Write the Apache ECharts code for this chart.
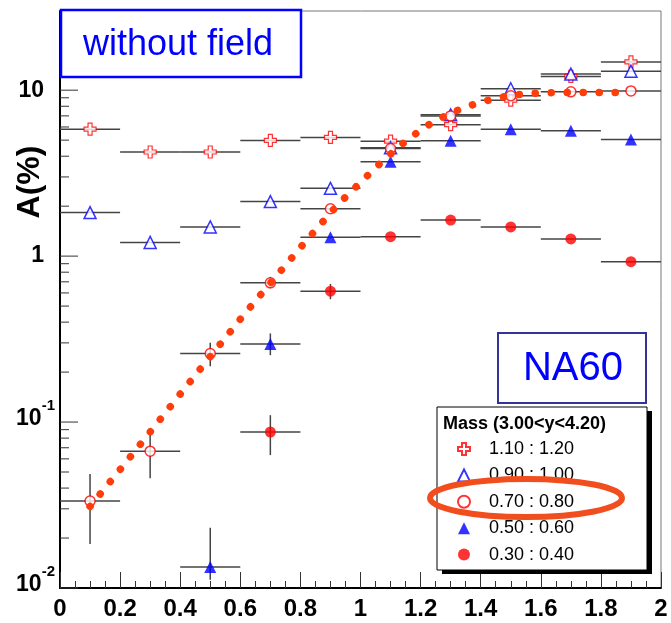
<!DOCTYPE html>
<html><head><meta charset="utf-8">
<script src="https://cdn.jsdelivr.net/npm/echarts@6/dist/echarts.min.js"></script>
<style>html,body{margin:0;padding:0;background:#fff}#c{width:671px;height:623px}</style>
</head><body><div id="c"></div>
<script>
// ---- data ----
const xCenters = [0.1, 0.3, 0.5, 0.7, 0.9, 1.1, 1.3, 1.5, 1.7, 1.9];
const xHalfWidth = 0.1;

const seriesNames = ['1.10 : 1.20', '0.90 : 1.00', '0.70 : 0.80', '0.50 : 0.60', '0.30 : 0.40'];

const mass110 = [5.82, 4.24, 4.24, 4.98, 5.19, 4.93, 6.2, 8.7, 12.1, 14.8];
const mass090 = [1.83, 1.21, 1.50, 2.13, 2.56, 4.5, 7.1, 10.2, 12.5, 13.0];
const mass070 = [0.0334, 0.0668, 0.259, 0.69, 1.93, 4.45, 7.0, 9.25, 9.77, 9.9];
const mass050 = [null, null, 0.0134, 0.295, 1.30, 3.70, 4.95, 5.82, 5.69, 5.05];
const mass030 = [null, null, null, 0.0871, 0.615, 1.31, 1.65, 1.50, 1.27, 0.925];

// vertical error bars (low, high); null = negligible
const mass070Lo = [0.0184, 0.0458, 0.217, 0.64, null, null, null, null, null, null];
const mass070Hi = [0.0487, 0.0883, 0.301, 0.75, null, null, null, null, null, null];
const mass050Lo = [null, null, 0.0112, 0.253, null, null, null, null, null, null];
const mass050Hi = [null, null, 0.0231, 0.342, null, null, null, null, null, null];
const mass030Lo = [null, null, null, 0.0632, 0.55, null, null, null, null, null];
const mass030Hi = [null, null, null, 0.110, 0.68, null, null, null, null, null];

// dotted fit curve
const fitX = [0.10, 0.213, 0.313, 0.412, 0.512, 0.613, 0.715, 0.818, 0.923, 1.0, 1.076, 1.157, 1.200, 1.246, 1.292, 1.342, 1.393, 1.444, 1.495, 1.550, 1.602, 1.655, 1.9];
const fitY = [0.031, 0.0553, 0.0933, 0.157, 0.264, 0.446, 0.740, 1.23, 2.03, 2.78, 3.78, 5.05, 5.74, 6.50, 7.14, 7.83, 8.39, 8.87, 9.25, 9.51, 9.64, 9.68, 9.68];

// axis ticks / labels
const xTickLabels = ['0', '0.2', '0.4', '0.6', '0.8', '1', '1.2', '1.4', '1.6', '1.8', '2'];
const yTickValues = [0.01, 0.1, 1, 10];
const yTickLabels = ['{b|10}{s|-2}', '{b|10}{s|-1}', '{p|1}', '{p|10}'];
const yMinorMultipliers = [2, 3, 4, 5, 6, 7, 8, 9];

// ---- build ----
const FONT = '"Liberation Sans", Arial, Helvetica, sans-serif';
const values = [mass110, mass090, mass070, mass050, mass030];
const errLo = [null, null, mass070Lo, mass050Lo, mass030Lo];
const errHi = [null, null, mass070Hi, mass050Hi, mass030Hi];

function pts(arr) {
  const out = [];
  arr.forEach((v, i) => { if (v != null) out.push([xCenters[i], v]); });
  return out;
}
const errData = [];
values.forEach((arr, s) => {
  arr.forEach((v, i) => {
    if (v == null) return;
    const lo = errLo[s] ? errLo[s][i] : null;
    const hi = errHi[s] ? errHi[s][i] : null;
    errData.push([xCenters[i], v, xCenters[i] - xHalfWidth, xCenters[i] + xHalfWidth, lo == null ? v : lo, hi == null ? v : hi]);
  });
});
const yTickData = [];
yTickValues.forEach(v => yTickData.push([0, v, 18]));
[0.01, 0.1, 1, 10].forEach(d => yMinorMultipliers.forEach(m => { if (m * d <= 30) yTickData.push([0, m * d, 9]); }));

const crossPath = 'path://M-1,-3L1,-3L1,-1L3,-1L3,1L1,1L1,3L-1,3L-1,1L-3,1L-3,-1L-1,-1Z';
const fit = fitX.map((x, i) => [x, fitY[i]]);

const chart = echarts.init(document.getElementById('c'), null, { renderer: 'canvas' });
chart.setOption({
  animation: false,
  backgroundColor: '#fff',
  grid: { left: 60, right: 10, top: 11, bottom: 35, show: true, borderColor: '#777', borderWidth: 1, backgroundColor: 'transparent' },
  xAxis: {
    type: 'value', min: 0, max: 2, interval: 0.2,
    axisLine: { lineStyle: { color: '#000', width: 2 } },
    axisTick: { inside: true, length: 16, lineStyle: { color: '#333', width: 1 } },
    minorTick: { show: true, splitNumber: 4, length: 7, lineStyle: { color: '#333', width: 1 } },
    splitLine: { show: false },
    axisLabel: {
      margin: 9, color: '#000', fontSize: 24, fontWeight: 'bold', fontFamily: FONT,
      formatter: v => xTickLabels[Math.round(v / 0.2)]
    }
  },
  yAxis: {
    type: 'log', logBase: 10, min: 0.01, max: 30,
    axisLine: { lineStyle: { color: '#000', width: 2 } },
    axisTick: { show: false },
    splitLine: { show: false },
    axisLabel: {
      margin: 5, color: '#000',
      formatter: function (v) {
        const e = Math.round(Math.log10(v));
        if (Math.abs(v / Math.pow(10, e) - 1) > 1e-6) return '';
        const idx = yTickValues.findIndex(t => Math.abs(t / v - 1) < 1e-6);
        return idx < 0 ? '' : yTickLabels[idx];
      },
      rich: {
        b: { fontSize: 23, fontWeight: 'bold', fontFamily: FONT, color: '#000', lineHeight: 23, verticalAlign: 'bottom', padding: [0, 0, 3, 0] },
        s: { fontSize: 15, fontWeight: 'bold', fontFamily: FONT, color: '#000', lineHeight: 15, verticalAlign: 'bottom', padding: [0, 0, 20, 0] },
        p: { fontSize: 23, fontWeight: 'bold', fontFamily: FONT, color: '#000', lineHeight: 23, padding: [0, 11, 0, 0] }
      }
    }
  },
  legend: {
    orient: 'vertical', left: 457, top: 440, padding: 0, itemGap: 8.4,
    itemWidth: 12, itemHeight: 12, z: 20,
    data: seriesNames,
    textStyle: { fontSize: 18, fontFamily: FONT, color: '#000', lineHeight: 18, padding: [0, 0, 0, 14] }
  },
  graphic: [
    { type: 'rect', z: 15, shape: { x: 442, y: 411, width: 210, height: 163 }, style: { fill: '#000' } },
    { type: 'rect', z: 16, shape: { x: 437, y: 407, width: 210, height: 163 }, style: { fill: '#fff', stroke: '#000', lineWidth: 1 } },
    { type: 'text', z: 17, x: 443, y: 424, style: { text: 'Mass (3.00<y<4.20)', font: 'bold 18px ' + FONT, fill: '#000', verticalAlign: 'middle', align: 'left' } },
    { type: 'ellipse', z: 30, shape: { cx: 526, cy: 498, rx: 96, ry: 19 }, style: { fill: 'none', stroke: '#f24d1c', lineWidth: 6 } },
    { type: 'rect', z: 15, shape: { x: 61, y: 10, width: 240, height: 67 }, style: { fill: '#fff', stroke: '#0000ff', lineWidth: 2.5 } },
    { type: 'text', z: 16, x: 178, y: 45, style: { text: 'without field', font: '36px ' + FONT, fill: '#0000ff', align: 'center', verticalAlign: 'middle' } },
    { type: 'rect', z: 15, shape: { x: 498, y: 333, width: 148, height: 70 }, style: { fill: '#fff', stroke: '#333399', lineWidth: 2 } },
    { type: 'text', z: 16, x: 573, y: 369, style: { text: 'NA60', font: '40px ' + FONT, fill: '#0000ff', align: 'center', verticalAlign: 'middle' } },
    { type: 'text', z: 16, x: 30, y: 182, rotation: Math.PI / 2, style: { text: 'A(%)', font: 'bold 32px ' + FONT, fill: '#000', align: 'center', verticalAlign: 'middle' } }
  ],
  series: [
    {
      type: 'custom', name: 'yticks', silent: true, z: 1,
      data: yTickData, encode: { x: 0, y: 1 },
      renderItem: function (params, api) {
        const p = api.coord([api.value(0), api.value(1)]);
        return { type: 'line', shape: { x1: p[0], y1: p[1], x2: p[0] + api.value(2), y2: p[1] }, style: { stroke: '#333', lineWidth: 1 } };
      }
    },
    {
      type: 'custom', name: 'errors', silent: true, z: 2,
      data: errData, encode: { x: 0, y: 1 },
      renderItem: function (params, api) {
        const a = api.coord([api.value(2), api.value(1)]);
        const b = api.coord([api.value(3), api.value(1)]);
        const children = [{ type: 'line', shape: { x1: a[0], y1: a[1], x2: b[0], y2: b[1] }, style: { stroke: '#444', lineWidth: 1.5 } }];
        if (api.value(4) !== api.value(5)) {
          const c = api.coord([api.value(0), api.value(4)]);
          const d = api.coord([api.value(0), api.value(5)]);
          children.push({ type: 'line', shape: { x1: c[0], y1: c[1], x2: d[0], y2: d[1] }, style: { stroke: '#444', lineWidth: 1.5 } });
        }
        return { type: 'group', children: children };
      }
    },
    { type: 'scatter', name: seriesNames[0], z: 3, data: pts(mass110), symbol: crossPath, symbolSize: 12,
      itemStyle: { color: '#fff', borderColor: '#ff0000', borderWidth: 1.2 } },
    { type: 'scatter', name: seriesNames[1], z: 3, data: pts(mass090), symbol: 'triangle', symbolSize: 12,
      itemStyle: { color: '#fff', borderColor: '#0000ff', borderWidth: 1.5 } },
    { type: 'scatter', name: seriesNames[2], z: 3, data: pts(mass070), symbol: 'circle', symbolSize: 10,
      itemStyle: { color: '#fff', borderColor: '#ff0000', borderWidth: 1.5 } },
    { type: 'scatter', name: seriesNames[3], z: 3, data: pts(mass050), symbol: 'triangle', symbolSize: 12,
      itemStyle: { color: '#0000ff' } },
    { type: 'scatter', name: seriesNames[4], z: 3, data: pts(mass030), symbol: 'circle', symbolSize: 11,
      itemStyle: { color: '#ff0000' } },
    {
      type: 'line', name: 'fit', z: 5, data: fit, symbol: 'none', silent: true,
      lineStyle: { color: '#ff3d0a', width: 7.5, type: [0.1, 15.9], cap: 'round' }
    }
  ]
});
</script>
</body></html>
